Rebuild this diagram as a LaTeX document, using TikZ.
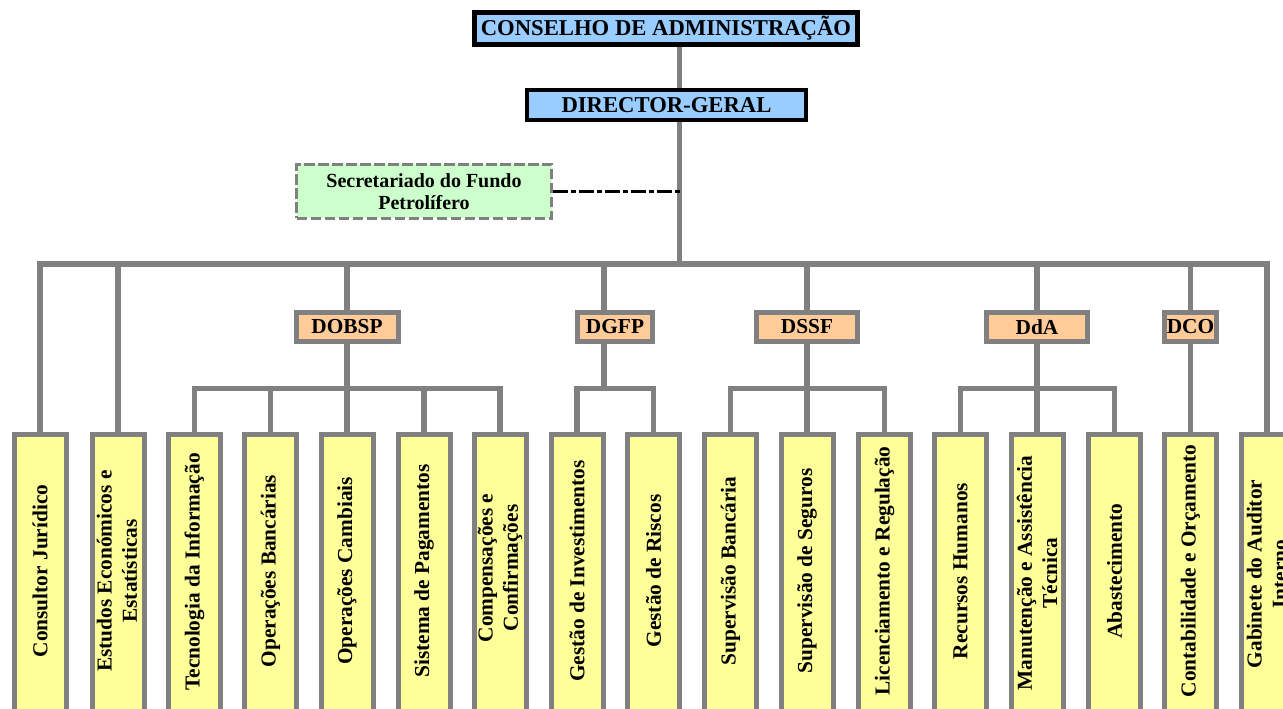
\documentclass[tikz,border=0pt]{standalone}
\usepackage{fontspec}
\setmainfont{Liberation Serif}
\definecolor{cblue}{HTML}{99CCFF}
\definecolor{cgreen}{HTML}{CCFFCC}
\definecolor{cpeach}{HTML}{FFCC99}
\definecolor{cyel}{HTML}{FFFF99}
\definecolor{cgray}{HTML}{808080}
\begin{document}
\begin{tikzpicture}[x=0.75pt,y=-0.75pt,
  topbox/.style={draw=black, fill=cblue, inner sep=0pt, font=\bfseries\fontsize{17}{19}\selectfont},
  secbox/.style={draw=cgray, line width=2.25pt, dash pattern=on 8pt off 2.5pt, fill=cgreen, inner sep=0pt, align=center, font=\bfseries\fontsize{15}{17}\selectfont},
  midbox/.style={draw=cgray, line width=3.75pt, fill=cpeach, minimum height=21.75pt, inner sep=0pt, font=\bfseries\fontsize{16}{18}\selectfont},
  unitbox/.style={draw=cgray, line width=3.75pt, fill=cyel, minimum width=39pt, minimum height=214.1pt, inner sep=0pt},
  unittext/.style={rotate=90, align=center, inner sep=0pt, font=\bfseries\fontsize{16}{19}\selectfont},
  link/.style={draw=cgray, line width=4pt},
  dashdotline/.style={draw=black, line width=2.25pt, dash pattern=on 11pt off 2.5pt on 3.5pt off 2.5pt}]
\useasboundingbox (0,0) rectangle (1283,709);
\clip (0,0) rectangle (1283,709);
\fill[white] (0,0) rectangle (1283,709);
% coordinates
\coordinate (bus) at (679.5,264);
\coordinate (sub) at (0,388.5);
\coordinate (dgfpx) at (604,0);
% top
\node[topbox, line width=3.75pt, minimum width=287.25pt, minimum height=24pt] (ca) at (666,28.5) {CONSELHO DE ADMINISTRAÇÃO};
\node[topbox, line width=3pt, minimum width=209.25pt, minimum height=22.5pt] (dg) at (666.5,105) {DIRECTOR-GERAL};
\node[secbox, minimum width=191.25pt, minimum height=40.5pt] (sec) at (424,191.5) {Secretariado do Fundo\\Petrolífero};
% mid boxes
\node[midbox, minimum width=76.5pt] (dobsp) at (347,327) {DOBSP};
\node[midbox, minimum width=56.25pt] (dgfp) at (615,327) {DGFP};
\node[midbox, minimum width=75.75pt] (dssf) at (807,327) {DSSF};
\node[midbox, minimum width=75.75pt] (dda) at (1037,327) {DdA};
\node[midbox, minimum width=39pt] (dco) at (1190.5,327) {DCO};
% connectors
\draw[link] (ca.south -| bus) -- (dg.north -| bus);
\draw[link] (dg.south -| bus) -- (bus);
\draw[dashdotline] (sec.east) -- (sec.east -| bus);
% unit boxes
\node[unitbox] (u1) at (40,577.25) {};
\node[unitbox] (u2) at (118,577.25) {};
\node[unitbox] (u3) at (194.5,577.25) {};
\node[unitbox] (u4) at (270.5,577.25) {};
\node[unitbox] (u5) at (347,577.25) {};
\node[unitbox] (u6) at (424,577.25) {};
\node[unitbox] (u7) at (500,577.25) {};
\node[unitbox] (u8) at (577,577.25) {};
\node[unitbox] (u9) at (653.5,577.25) {};
\node[unitbox] (u10) at (730.5,577.25) {};
\node[unitbox] (u11) at (807,577.25) {};
\node[unitbox] (u12) at (884.5,577.25) {};
\node[unitbox] (u13) at (960.5,577.25) {};
\node[unitbox] (u14) at (1037,577.25) {};
\node[unitbox] (u15) at (1114.5,577.25) {};
\node[unitbox] (u16) at (1190.5,577.25) {};
\node[unitbox] (u17) at (1267,577.25) {};
% unit texts
\node[unittext] (t1) at (40,571) {Consultor Jurídico};
\node[unittext] (t2) at (117,571) {Estudos Económicos e\\Estatísticas};
\node[unittext] (t3) at (194.5,572) {Tecnologia da Informação};
\node[unittext] (t4) at (270.5,571) {Operações Bancárias};
\node[unittext] (t5) at (347,571) {Operações Cambiais};
\node[unittext] (t6) at (424,571) {Sistema de Pagamentos};
\node[unittext] (t7) at (500,568) {Compensações e\\Confirmações};
\node[unittext] (t8) at (577,571) {Gestão de Investimentos};
\node[unittext] (t9) at (653.5,571) {Gestão de Riscos};
\node[unittext] (t10) at (730.5,571) {Supervisão Bancária};
\node[unittext] (t11) at (807,571) {Supervisão de Seguros};
\node[unittext] (t12) at (884.5,571) {Licenciamento e Regulação};
\node[unittext] (t13) at (960.5,571) {Recursos Humanos};
\node[unittext] (t14) at (1037,573) {Manutenção e Assistência\\Técnica};
\node[unittext] (t15) at (1114.5,571) {Abastecimento};
\node[unittext] (t16) at (1190.5,571) {Contabilidade e Orçamento};
\node[unittext] (t17) at (1267,574) {Gabinete do Auditor\\Interno};
% main bus
\draw[link] (u1.north) |- (u17.north |- bus) -- (u17.north);
\draw[link] (u2.north) -- (u2.north |- bus);
\draw[link] (dobsp.north |- bus) -- (dobsp.north);
\draw[link] (dgfpx |- bus) -- (dgfpx |- dgfp.north);
\draw[link] (dssf.north |- bus) -- (dssf.north);
\draw[link] (dda.north |- bus) -- (dda.north);
\draw[link] (dco.north |- bus) -- (dco.north);
% DOBSP
\draw[link] (dobsp.south) -- (dobsp.south |- sub);
\draw[link] (u3.north) |- (u7.north |- sub) -- (u7.north);
\draw[link] (u4.north) -- (u4.north |- sub);
\draw[link] (u5.north) -- (u5.north |- sub);
\draw[link] (u6.north) -- (u6.north |- sub);
% DGFP
\draw[link] (dgfpx |- dgfp.south) -- (dgfpx |- sub);
\draw[link] (u8.north) |- (u9.north |- sub) -- (u9.north);
% DSSF
\draw[link] (dssf.south) -- (dssf.south |- sub);
\draw[link] (u10.north) |- (u12.north |- sub) -- (u12.north);
\draw[link] (u11.north) -- (u11.north |- sub);
% DdA
\draw[link] (dda.south) -- (dda.south |- sub);
\draw[link] (u13.north) |- (u15.north |- sub) -- (u15.north);
\draw[link] (u14.north) -- (u14.north |- sub);
% DCO
\draw[link] (dco.south) -- (u16.north);
\end{tikzpicture}
\end{document}
